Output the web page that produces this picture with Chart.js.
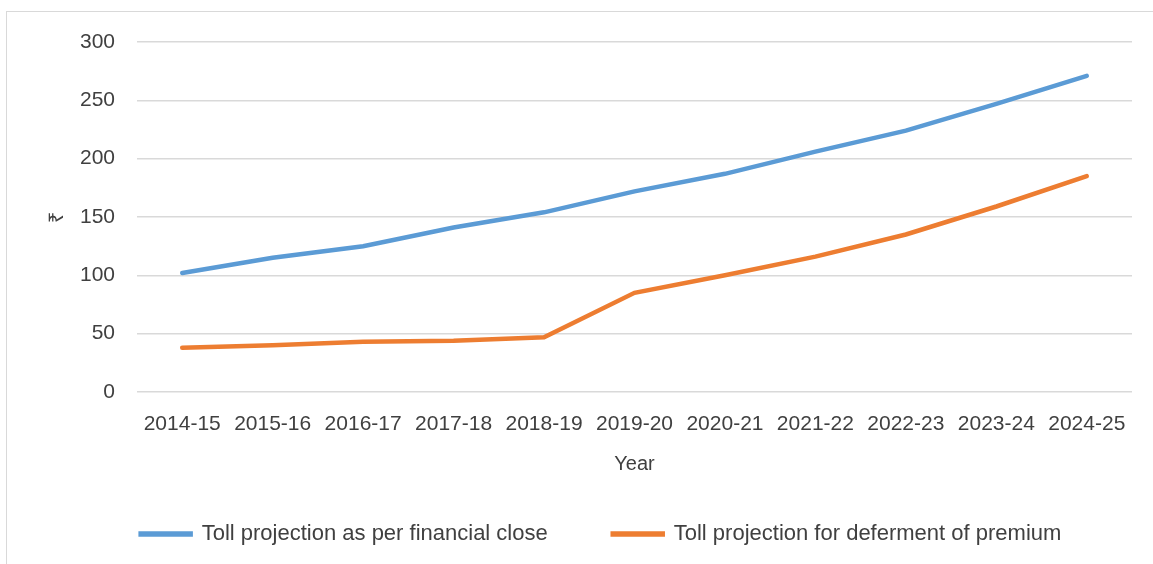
<!DOCTYPE html>
<html>
<head>
<meta charset="utf-8">
<script src="https://cdn.jsdelivr.net/npm/chart.js@4"></script>
<style>
  html, body { margin: 0; padding: 0; background: #fff; }
  #wrap { position: relative; width: 1153px; height: 564px; }
  #frame { position: absolute; left: 6px; top: 11px; width: 1200px; height: 600px;
           border-left: 1px solid #d9d9d9; border-top: 1px solid #d9d9d9; pointer-events: none; }
</style>
</head>
<body>
<div id="wrap">
  <canvas id="tollChart" width="1153" height="564"></canvas>
  <div id="frame"></div>
</div>
<script>
// data
var years = ['2014-15', '2015-16', '2016-17', '2017-18', '2018-19', '2019-20',
             '2020-21', '2021-22', '2022-23', '2023-24', '2024-25'];
var tollFinancialClose = [102, 115, 125, 141, 154, 172, 187, 206, 224, 247, 271];
var tollDeferment = [38, 40, 43, 44, 47, 85, 100, 116, 135, 159, 185];
var seriesNames = ['Toll projection as per financial close', 'Toll projection for deferment of premium'];

var fontFam = "'Liberation Sans', Arial, sans-serif";
var textCol = '#404040';

var ctx = document.getElementById('tollChart').getContext('2d');
var tollChart = new Chart(ctx, {
    type: 'line',
    data: {
        labels: years,
        datasets: [{
            label: seriesNames[0],
            data: tollFinancialClose,
            borderColor: '#5b9bd5',
            backgroundColor: '#5b9bd5',
            borderWidth: 4.5,
            pointRadius: 0,
            borderCapStyle: 'round',
            tension: 0
        }, {
            label: seriesNames[1],
            data: tollDeferment,
            borderColor: '#ed7d31',
            backgroundColor: '#ed7d31',
            borderWidth: 4.5,
            pointRadius: 0,
            borderCapStyle: 'round',
            tension: 0
        }]
    },
    options: {
        responsive: false,
        animation: false,
        layout: { padding: { left: 70, right: 21, top: 42, bottom: 9 } },
        scales: {
            x: {
                offset: true,
                grid: { display: false, drawTicks: false },
                border: { display: false },
                ticks: { color: textCol, font: { family: fontFam, size: 21 }, padding: 20, maxRotation: 0 },
                title: { display: true, text: 'Year', color: textCol,
                         font: { family: fontFam, size: 20 }, padding: { top: 0, bottom: -18 } },
                afterFit: function (scale) { scale.height = 66; }
            },
            y: {
                min: 0,
                max: 300,
                grid: { color: '#d9d9d9', lineWidth: 1.5, drawTicks: false },
                border: { display: false },
                ticks: { stepSize: 50, color: textCol, font: { family: fontFam, size: 21 }, padding: 22 },
                title: { display: true, text: '₹', color: textCol,
                         font: { family: fontFam, size: 20 }, padding: { top: -25, bottom: 0 } },
                afterFit: function (scale) { scale.width = 67; }
            }
        },
        plugins: {
            legend: {
                position: 'bottom',
                labels: {
                    color: textCol,
                    font: { family: fontFam, size: 22 },
                    boxWidth: 50,
                    boxHeight: 1,
                    padding: 65
                }
            },
            tooltip: { enabled: false }
        }
    }
});
</script>
</body>
</html>
